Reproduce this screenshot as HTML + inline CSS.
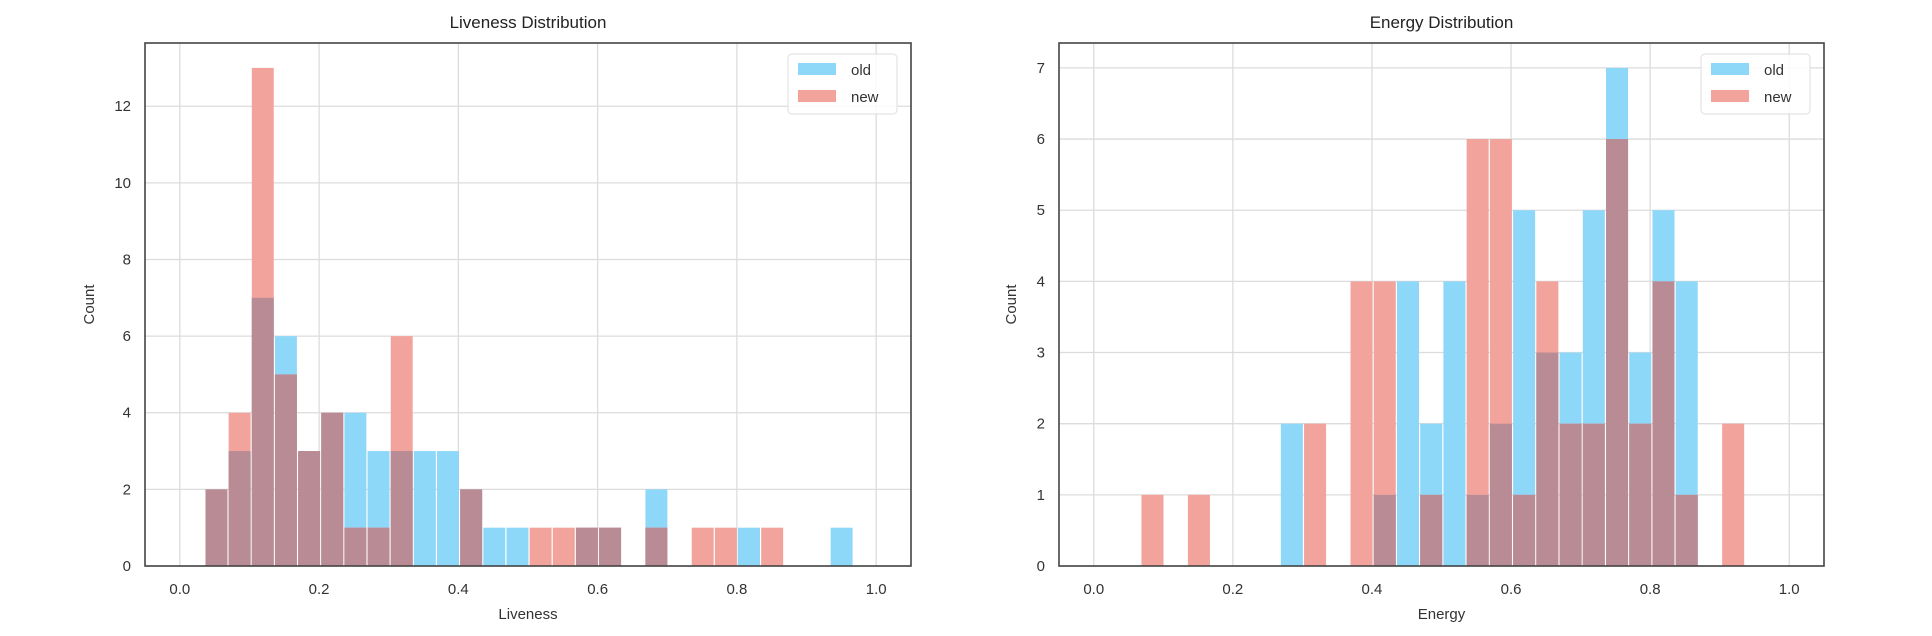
<!DOCTYPE html>
<html><head><meta charset="utf-8"><style>
html,body{margin:0;padding:0;background:#fff;}
svg{display:block;font-family:"Liberation Sans",Arial,sans-serif;}
</style></head><body>
<svg id="chart" width="1932" height="636" viewBox="0 0 1932 636" xmlns="http://www.w3.org/2000/svg"></svg>
<script>
// Liveness data (30-ish bins, width ~0.0334, starting at 0.036)
const livenessOld = [2,3,7,6,3,4,4,3,3,3,3,2,1,1,0,0,1,1,0,2,0,0,0,1,0,0,0,1];
const livenessNew = [2,4,13,5,3,4,1,1,6,0,0,2,0,0,1,1,1,1,0,1,0,1,1,0,1,0,0,0];
const livenessBinStart = 0.036;
const livenessBinWidth = 0.03325;
const livenessYTicks = [0,2,4,6,8,10,12];
// Energy data
const energyOld = [0,0,0,0,0,0,2,0,0,0,1,4,2,4,1,2,5,3,3,5,7,3,5,4,0,0];
const energyNew = [1,0,1,0,0,0,0,2,0,4,4,0,1,0,6,6,1,4,2,2,6,2,4,1,0,2];
const energyBinStart = 0.0677;
const energyBinWidth = 0.0334;
const energyYTicks = [0,1,2,3,4,5,6,7];
const xTicks = [0,0.2,0.4,0.6,0.8,1.0];
const xTickLabels = ["0.0","0.2","0.4","0.6","0.8","1.0"];

const NS="http://www.w3.org/2000/svg";
const svg=document.getElementById('chart');
function mk(tag,attrs,parent){const e=document.createElementNS(NS,tag);for(const k in attrs)e.setAttribute(k,attrs[k]);(parent||svg).appendChild(e);return e;}

function drawPanel(cfg){
  const {left,right,top,bottom,ymax,title,xlabel,oldV,newV,start,width,yTicks,countX,name}=cfg;
  const g=mk('g',{});
  
  
  const xs=v=>left+(v+0.05)/1.1*(right-left);
  const ys=v=>bottom-v/ymax*(bottom-top);
  // grid
  xTicks.forEach((t,i)=>{
    const l=mk('line',{x1:xs(t),x2:xs(t),y1:top,y2:bottom,stroke:'#dcdcdc','stroke-width':1.3},g);
    
    
    const tx=mk('text',{x:xs(t),y:bottom+28,'text-anchor':'middle','font-size':15,fill:'#333'},g);
    
    
    tx.textContent=xTickLabels[i];
  });
  yTicks.forEach(t=>{
    const l=mk('line',{x1:left,x2:right,y1:ys(t),y2:ys(t),stroke:'#dcdcdc','stroke-width':1.3},g);
    
    
    const tx=mk('text',{x:left-14,y:ys(t)+5,'text-anchor':'end','font-size':15,fill:'#333'},g);
    
    
    tx.textContent=String(t);
  });
  // bars
  const n=Math.max(oldV.length,newV.length);
  for(let i=0;i<n;i++){
    const x0=xs(start+i*width), x1=xs(start+(i+1)*width);
    const o=oldV[i]||0, nw=newV[i]||0, m=Math.min(o,nw);
    const layers=[[o,'#8dd7f9','bar-old'],[nw,'#f2a39c','bar-new'],[m,'#b98b94','bar-overlap']];
    layers.forEach(([v,c,nm])=>{
      if(v<=0)return;
      const r=mk('rect',{x:x0+0.6,y:ys(v),width:Math.max(0,x1-x0-1.2),height:bottom-ys(v),fill:c},g);
      
      
    });
  }
  const fr=mk('rect',{x:left,y:top,width:right-left,height:bottom-top,fill:'none',stroke:'#444','stroke-width':1.6},g);
  
  
  const tt=mk('text',{x:(left+right)/2,y:28,'text-anchor':'middle','font-size':17,fill:'#222'},g);
  
  
  tt.textContent=title;
  const xl=mk('text',{x:(left+right)/2,y:619,'text-anchor':'middle','font-size':15,fill:'#333'},g);
  
  
  xl.textContent=xlabel;
  const yl=mk('text',{x:0,y:0,'text-anchor':'middle','font-size':15,fill:'#333',transform:`translate(${countX},${(top+bottom)/2}) rotate(-90)`},g);
  
  
  yl.textContent='Count';
  // legend
  const lx=right-123, ly=top+11;
  const lg=mk('g',{},g);
  
  
  mk('rect',{x:lx,y:ly,width:109,height:60,rx:4,fill:'#fff','fill-opacity':0.85,stroke:'#ddd','stroke-width':1},lg);
  [['old','#8dd7f9',0],['new','#f2a39c',1]].forEach(([lab,c,k])=>{
    const e=mk('g',{},lg);
    
    
    mk('rect',{x:lx+10,y:ly+9+k*27,width:38,height:12,fill:c},e);
    const t=mk('text',{x:lx+63,y:ly+21+k*27,'font-size':15,fill:'#333'},e);
    t.textContent=lab;
  });
}
drawPanel({name:'liveness',left:145,right:911,top:43,bottom:566,ymax:13.65,title:'Liveness Distribution',xlabel:'Liveness',oldV:livenessOld,newV:livenessNew,start:livenessBinStart,width:livenessBinWidth,yTicks:livenessYTicks,countX:94});
drawPanel({name:'energy',left:1059,right:1824,top:43,bottom:566,ymax:7.35,title:'Energy Distribution',xlabel:'Energy',oldV:energyOld,newV:energyNew,start:energyBinStart,width:energyBinWidth,yTicks:energyYTicks,countX:1016});
</script>
</body></html>
